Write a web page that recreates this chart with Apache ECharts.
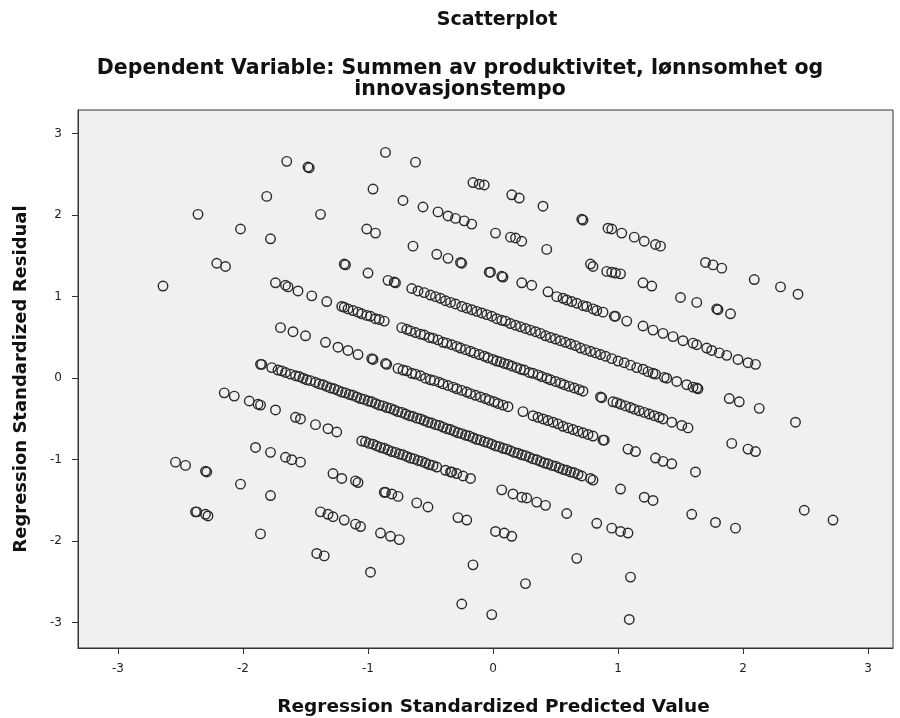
<!DOCTYPE html>
<html>
<head>
<meta charset="utf-8">
<script src="https://cdn.jsdelivr.net/npm/echarts@6/dist/echarts.min.js"></script>
<style>
html, body { margin: 0; padding: 0; background: #ffffff; }
#chart { width: 900px; height: 718px; }
</style>
</head>
<body>
<div id="chart"></div>
<script>
// Texts
const chartTitle = 'Scatterplot';
const chartSubtitle = 'Dependent Variable: Summen av produktivitet, lønnsomhet og\ninnovasjonstempo';
const xAxisName = 'Regression Standardized Predicted Value';
const yAxisName = 'Regression Standardized Residual';
const tickValues = [-3, -2, -1, 0, 1, 2, 3];

// [standardized predicted value, standardized residual], grouped by observed score
const band1 = [[-0.86,2.77],[-0.62,2.65],[-0.16,2.40],[-0.11,2.38],[-0.07,2.37],[0.15,2.25],[0.21,2.21],[0.40,2.11],[0.71,1.95],[0.72,1.94],[0.92,1.84],[0.95,1.83],[1.03,1.78],[1.13,1.73],[1.21,1.68],[1.30,1.64],[1.34,1.62],[1.70,1.42],[1.76,1.39],[1.83,1.35],[2.09,1.21],[2.30,1.12],[2.44,1.03]];

const band2 = [[-1.65,2.66],[-1.48,2.59],[-1.47,2.58],[-0.96,2.32],[-0.72,2.18],[-0.56,2.10],[-0.44,2.04],[-0.36,1.99],[-0.30,1.96],[-0.23,1.93],[-0.17,1.89],[0.02,1.78],[0.14,1.73],[0.18,1.72],[0.23,1.68],[0.43,1.58],[0.78,1.40],[0.80,1.37],[0.91,1.31],[0.95,1.30],[0.98,1.29],[1.02,1.28],[1.20,1.17],[1.27,1.13],[1.50,0.99],[1.63,0.93],[1.79,0.85],[1.80,0.84],[1.90,0.79]];

const band3 = [[-1.81,2.23],[-1.38,2.01],[-1.01,1.83],[-0.94,1.78],[-0.64,1.62],[-0.45,1.52],[-0.36,1.47],[-0.26,1.42],[-0.25,1.41],[-0.03,1.30],[-0.02,1.30],[0.07,1.25],[0.08,1.24],[0.23,1.17],[0.31,1.14],[0.44,1.06],[0.51,1.00],[0.56,0.98],[0.59,0.96],[0.63,0.94],[0.67,0.92],[0.72,0.89],[0.75,0.88],[0.80,0.85],[0.83,0.83],[0.88,0.81],[0.97,0.76],[0.98,0.76],[1.07,0.70],[1.20,0.64],[1.28,0.59],[1.36,0.55],[1.44,0.51],[1.52,0.46],[1.60,0.43],[1.63,0.41],[1.71,0.37],[1.75,0.34],[1.81,0.31],[1.87,0.28],[1.96,0.23],[2.04,0.19],[2.10,0.17]];

const band4 = [[-2.36,2.01],[-2.02,1.83],[-1.78,1.71],[-1.19,1.40],[-1.18,1.39],[-1.00,1.29],[-0.84,1.20],[-0.79,1.18],[-0.78,1.17],[-0.65,1.10],[-0.60,1.07],[-0.55,1.05],[-0.50,1.02],[-0.46,1.00],[-0.42,0.98],[-0.38,0.95],[-0.34,0.93],[-0.30,0.91],[-0.25,0.88],[-0.21,0.86],[-0.17,0.84],[-0.13,0.82],[-0.09,0.80],[-0.05,0.78],[-0.01,0.76],[0.03,0.73],[0.07,0.71],[0.10,0.70],[0.14,0.67],[0.18,0.65],[0.22,0.63],[0.26,0.61],[0.30,0.59],[0.34,0.57],[0.38,0.55],[0.42,0.52],[0.46,0.50],[0.50,0.48],[0.54,0.46],[0.58,0.44],[0.62,0.42],[0.66,0.40],[0.70,0.37],[0.74,0.35],[0.78,0.33],[0.82,0.31],[0.86,0.29],[0.90,0.27],[0.95,0.24],[1.00,0.21],[1.05,0.19],[1.10,0.16],[1.15,0.13],[1.20,0.11],[1.24,0.08],[1.28,0.06],[1.30,0.05],[1.37,0.01],[1.39,0.00],[1.47,-0.04],[1.55,-0.08],[1.60,-0.11],[1.63,-0.12],[1.64,-0.13],[1.89,-0.25],[1.97,-0.29],[2.13,-0.37],[2.42,-0.54]];

const band5 = [[-2.21,1.41],[-2.14,1.37],[-1.74,1.17],[-1.66,1.14],[-1.64,1.12],[-1.56,1.07],[-1.45,1.01],[-1.33,0.94],[-1.21,0.88],[-1.19,0.87],[-1.16,0.85],[-1.12,0.83],[-1.08,0.81],[-1.05,0.79],[-1.01,0.77],[-0.98,0.76],[-0.94,0.73],[-0.91,0.72],[-0.87,0.70],[-0.73,0.62],[-0.69,0.60],[-0.66,0.58],[-0.62,0.56],[-0.58,0.54],[-0.55,0.53],[-0.51,0.50],[-0.48,0.49],[-0.44,0.47],[-0.40,0.44],[-0.37,0.43],[-0.33,0.41],[-0.29,0.39],[-0.26,0.37],[-0.22,0.35],[-0.18,0.33],[-0.15,0.31],[-0.11,0.29],[-0.07,0.27],[-0.04,0.25],[0.00,0.23],[0.03,0.21],[0.06,0.20],[0.09,0.18],[0.12,0.17],[0.15,0.15],[0.19,0.13],[0.22,0.11],[0.25,0.10],[0.29,0.07],[0.32,0.06],[0.36,0.04],[0.39,0.02],[0.43,0.00],[0.46,-0.02],[0.50,-0.04],[0.54,-0.06],[0.57,-0.08],[0.61,-0.10],[0.65,-0.12],[0.69,-0.14],[0.72,-0.16],[0.86,-0.23],[0.87,-0.24],[0.96,-0.29],[0.99,-0.30],[1.02,-0.32],[1.06,-0.34],[1.10,-0.36],[1.13,-0.38],[1.17,-0.40],[1.21,-0.42],[1.25,-0.44],[1.29,-0.46],[1.33,-0.48],[1.36,-0.50],[1.43,-0.54],[1.51,-0.58],[1.56,-0.61],[1.91,-0.80],[2.04,-0.87],[2.10,-0.90]];

const band6 = [[-2.64,1.13],[-1.70,0.62],[-1.60,0.57],[-1.50,0.52],[-1.34,0.44],[-1.24,0.38],[-1.16,0.34],[-1.08,0.29],[-0.97,0.24],[-0.96,0.23],[-0.86,0.18],[-0.85,0.17],[-0.76,0.12],[-0.72,0.10],[-0.69,0.09],[-0.65,0.06],[-0.62,0.05],[-0.58,0.03],[-0.54,0.00],[-0.50,-0.02],[-0.47,-0.03],[-0.43,-0.05],[-0.40,-0.07],[-0.36,-0.09],[-0.32,-0.11],[-0.29,-0.13],[-0.25,-0.15],[-0.21,-0.17],[-0.18,-0.19],[-0.14,-0.21],[-0.10,-0.23],[-0.06,-0.25],[-0.03,-0.27],[0.01,-0.29],[0.04,-0.31],[0.08,-0.33],[0.12,-0.35],[0.24,-0.41],[0.32,-0.46],[0.36,-0.48],[0.40,-0.50],[0.44,-0.52],[0.48,-0.54],[0.52,-0.56],[0.56,-0.59],[0.60,-0.61],[0.64,-0.63],[0.68,-0.65],[0.72,-0.67],[0.76,-0.69],[0.80,-0.71],[0.88,-0.76],[0.89,-0.76],[1.08,-0.87],[1.14,-0.90],[1.30,-0.98],[1.36,-1.02],[1.43,-1.05],[1.62,-1.15],[2.49,-1.62],[2.72,-1.74]];

const band7 = [[-1.86,0.17],[-1.85,0.17],[-1.77,0.13],[-1.72,0.10],[-1.69,0.09],[-1.66,0.07],[-1.62,0.05],[-1.58,0.03],[-1.55,0.02],[-1.52,0.00],[-1.49,-0.02],[-1.46,-0.03],[-1.42,-0.05],[-1.39,-0.07],[-1.36,-0.08],[-1.33,-0.10],[-1.30,-0.12],[-1.27,-0.13],[-1.24,-0.15],[-1.21,-0.17],[-1.18,-0.18],[-1.15,-0.20],[-1.12,-0.21],[-1.09,-0.23],[-1.06,-0.25],[-1.03,-0.26],[-1.00,-0.28],[-0.97,-0.29],[-0.94,-0.31],[-0.91,-0.33],[-0.88,-0.34],[-0.85,-0.36],[-0.82,-0.37],[-0.79,-0.39],[-0.76,-0.41],[-0.73,-0.42],[-0.70,-0.44],[-0.67,-0.46],[-0.64,-0.47],[-0.61,-0.49],[-0.58,-0.50],[-0.55,-0.52],[-0.52,-0.54],[-0.49,-0.55],[-0.46,-0.57],[-0.43,-0.58],[-0.40,-0.60],[-0.37,-0.62],[-0.34,-0.63],[-0.31,-0.65],[-0.28,-0.67],[-0.25,-0.68],[-0.22,-0.70],[-0.19,-0.71],[-0.16,-0.73],[-0.13,-0.75],[-0.10,-0.76],[-0.07,-0.78],[-0.04,-0.79],[-0.01,-0.81],[0.02,-0.83],[0.05,-0.84],[0.08,-0.86],[0.11,-0.87],[0.14,-0.89],[0.17,-0.91],[0.20,-0.92],[0.23,-0.94],[0.26,-0.95],[0.29,-0.97],[0.32,-0.99],[0.35,-1.00],[0.38,-1.02],[0.41,-1.04],[0.44,-1.05],[0.47,-1.07],[0.50,-1.08],[0.53,-1.10],[0.56,-1.12],[0.59,-1.13],[0.62,-1.15],[0.65,-1.16],[0.68,-1.18],[0.71,-1.20],[0.78,-1.23],[0.80,-1.25],[1.02,-1.36],[1.21,-1.46],[1.28,-1.50],[1.59,-1.67],[1.78,-1.77],[1.94,-1.84]];

const band8 = [[-2.15,-0.18],[-2.07,-0.22],[-1.95,-0.28],[-1.88,-0.32],[-1.86,-0.33],[-1.74,-0.39],[-1.58,-0.48],[-1.54,-0.50],[-1.42,-0.57],[-1.32,-0.62],[-1.25,-0.66],[-1.05,-0.77],[-1.02,-0.78],[-0.99,-0.80],[-0.96,-0.81],[-0.93,-0.83],[-0.90,-0.85],[-0.87,-0.86],[-0.84,-0.88],[-0.81,-0.90],[-0.78,-0.91],[-0.75,-0.93],[-0.72,-0.94],[-0.69,-0.96],[-0.66,-0.98],[-0.63,-0.99],[-0.60,-1.01],[-0.57,-1.02],[-0.54,-1.04],[-0.51,-1.06],[-0.48,-1.07],[-0.45,-1.09],[-0.38,-1.13],[-0.34,-1.15],[-0.33,-1.15],[-0.29,-1.17],[-0.24,-1.20],[-0.18,-1.23],[0.07,-1.37],[0.16,-1.42],[0.23,-1.46],[0.27,-1.47],[0.35,-1.52],[0.42,-1.56],[0.59,-1.66],[0.83,-1.78],[0.95,-1.84],[1.02,-1.88],[1.08,-1.90]];

const band9 = [[-1.90,-0.85],[-1.78,-0.91],[-1.66,-0.97],[-1.61,-1.00],[-1.54,-1.03],[-1.28,-1.17],[-1.21,-1.23],[-1.10,-1.26],[-1.08,-1.28],[-0.87,-1.40],[-0.86,-1.40],[-0.81,-1.42],[-0.76,-1.45],[-0.61,-1.53],[-0.52,-1.58],[-0.28,-1.71],[-0.21,-1.74],[0.02,-1.88],[0.09,-1.90],[0.15,-1.94],[0.67,-2.21],[1.10,-2.44]];

const band10 = [[-2.54,-1.03],[-2.46,-1.07],[-2.30,-1.14],[-2.29,-1.15],[-2.02,-1.30],[-1.78,-1.44],[-1.38,-1.64],[-1.32,-1.67],[-1.28,-1.70],[-1.19,-1.74],[-1.10,-1.79],[-1.06,-1.82],[-0.90,-1.90],[-0.82,-1.94],[-0.75,-1.98],[-0.16,-2.29],[0.26,-2.52],[1.09,-2.96]];

const band11 = [[-2.38,-1.64],[-2.37,-1.64],[-2.30,-1.67],[-2.28,-1.69],[-1.86,-1.91],[-1.41,-2.15],[-1.35,-2.18],[-0.98,-2.38],[-0.25,-2.77],[-0.01,-2.90]];

const points = [].concat(band1, band2, band3, band4, band5, band6, band7, band8, band9, band10, band11);

const titleFont = 'DejaVu Sans';
const chart = echarts.init(document.getElementById('chart'), null, { renderer: 'canvas' });

chart.setOption({
  backgroundColor: '#ffffff',
  animation: false,
  title: [
    {
      text: chartTitle,
      left: 492,
      textAlign: 'center',
      top: 6,
      textStyle: { fontFamily: titleFont, fontWeight: 'bold', fontSize: 19, color: '#111' }
    },
    {
      text: chartSubtitle,
      left: 455,
      textAlign: 'center',
      top: 53,
      textStyle: { fontFamily: titleFont, fontWeight: 'bold', fontSize: 20.5, lineHeight: 21, color: '#111', align: 'center' }
    }
  ],
  grid: {
    show: true,
    left: 78,
    right: 7,
    top: 110,
    bottom: 70,
    outerBoundsMode: 'none',
    containLabel: false,
    backgroundColor: '#f0f0f0',
    borderColor: '#333333',
    borderWidth: 1
  },
  xAxis: {
    type: 'value',
    min: -3.32,
    max: 3.2,
    name: xAxisName,
    nameLocation: 'middle',
    nameGap: 50,
    nameTextStyle: { fontFamily: titleFont, fontWeight: 'bold', fontSize: 18.5, color: '#111', padding: [0, 0, 0, 16] },
    axisLine: { show: true, onZero: false, lineStyle: { color: '#333', width: 1 } },
    axisTick: { show: true, length: 6, lineStyle: { color: '#333' }, customValues: tickValues },
    axisLabel: { color: '#222', fontSize: 12, fontFamily: titleFont, margin: 15, customValues: tickValues },
    splitLine: { show: false }
  },
  yAxis: {
    type: 'value',
    min: -3.31,
    max: 3.29,
    name: yAxisName,
    nameLocation: 'middle',
    nameGap: 48,
    nameRotate: 90,
    nameTextStyle: { fontFamily: titleFont, fontWeight: 'bold', fontSize: 18, color: '#111' },
    axisLine: { show: true, onZero: false, lineStyle: { color: '#333', width: 1 } },
    axisTick: { show: true, length: 6, lineStyle: { color: '#333' }, customValues: tickValues },
    axisLabel: { color: '#222', fontSize: 12, fontFamily: titleFont, margin: 16, customValues: tickValues },
    splitLine: { show: false }
  },
  series: [
    {
      type: 'scatter',
      data: points,
      symbol: 'circle',
      symbolSize: 9.5,
      itemStyle: { color: 'rgba(0,0,0,0)', borderColor: '#2a2a2a', borderWidth: 1.4, opacity: 1 },
      emphasis: { disabled: true }
    }
  ]
});
</script>
</body>
</html>
